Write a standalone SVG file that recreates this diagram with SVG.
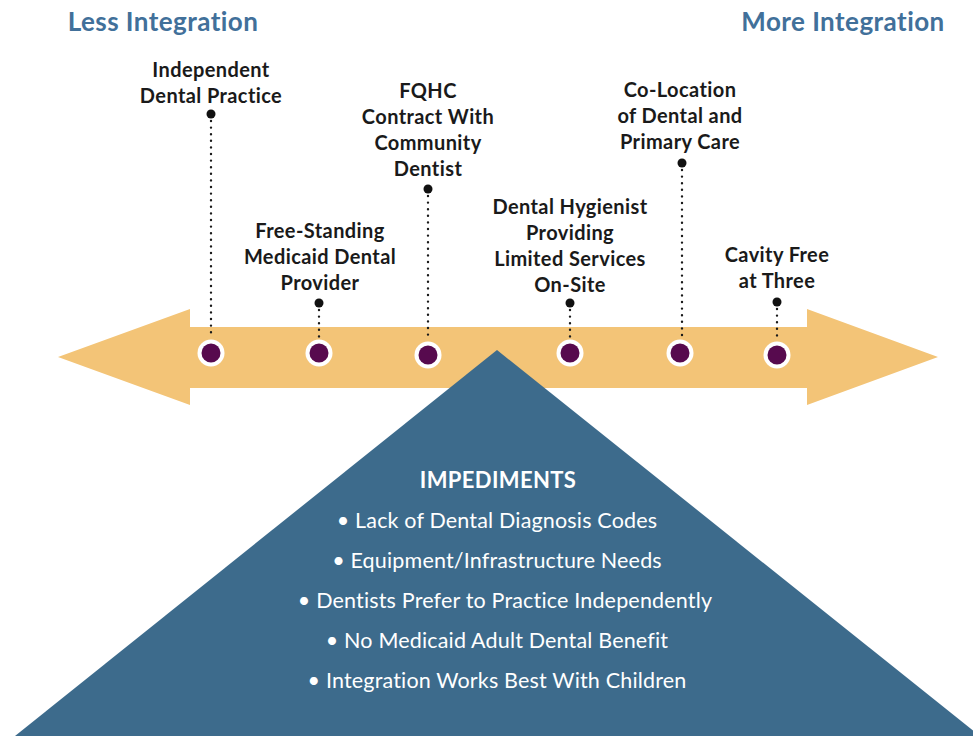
<svg xmlns="http://www.w3.org/2000/svg" width="973" height="736" viewBox="0 0 973 736">
<style>
.hdr{font-family:Lato,"Open Sans",sans-serif;font-weight:700;font-size:26px;letter-spacing:0.45px;fill:#41709a;text-anchor:middle}
.lbl{font-family:Lato,"Open Sans",sans-serif;font-weight:700;font-size:20px;letter-spacing:0.4px;fill:#1a1a1a;text-anchor:middle}
.imp{font-family:Lato,"Open Sans",sans-serif;font-size:21.5px;letter-spacing:0.17px;fill:#ffffff;text-anchor:middle}
.impt{font-family:Lato,"Open Sans",sans-serif;font-weight:700;font-size:22px;letter-spacing:0.35px;fill:#ffffff;text-anchor:middle}
.dots{stroke:#1a1a1a;stroke-width:2.4;stroke-linecap:round;stroke-dasharray:0 6.6;fill:none}
.pin{fill:#111}
.ring{fill:#ffffff}
.core{fill:#570a4e}
</style>
<g id="arrow">
<polygon points="58,357 190,309 190,327 807,327 807,309 938,357 807,405 807,388 190,388 190,405" fill="#f3c477"/>
</g>
<g id="impediments">
<polygon points="497,350 15,736 980,736" fill="#3d6b8c"/>
<text class="impt" x="498" y="488">IMPEDIMENTS</text>
<text class="imp" x="497" y="528">• Lack of Dental Diagnosis Codes</text>
<text class="imp" x="497" y="568">• Equipment/Infrastructure Needs</text>
<text class="imp" x="505" y="608">• Dentists Prefer to Practice Independently</text>
<text class="imp" x="497" y="648">• No Medicaid Adult Dental Benefit</text>
<text class="imp" x="497" y="688">• Integration Works Best With Children</text>
</g>
<g id="headers">
<text class="hdr" x="163" y="31">Less Integration</text>
<text class="hdr" x="843" y="31">More Integration</text>
</g>
<g id="connectors">
<line class="dots" x1="211" y1="121" x2="211" y2="337"/>
<line class="dots" x1="319" y1="310" x2="319" y2="337"/>
<line class="dots" x1="428" y1="196" x2="428" y2="337"/>
<line class="dots" x1="570" y1="310" x2="570" y2="337"/>
<line class="dots" x1="682" y1="170" x2="682" y2="337"/>
<line class="dots" x1="777" y1="309" x2="777" y2="337"/>
</g>
<g id="node-independent">
<text class="lbl" x="211" y="77">Independent</text>
<text class="lbl" x="211" y="103">Dental Practice</text>
<circle class="pin" cx="211" cy="114" r="4.5"/>
<circle class="ring" cx="211" cy="353" r="13.5"/>
<circle class="core" cx="211" cy="353" r="9.5"/>
</g>
<g id="node-freestanding">
<text class="lbl" x="320" y="238">Free-Standing</text>
<text class="lbl" x="320" y="264">Medicaid Dental</text>
<text class="lbl" x="320" y="290">Provider</text>
<circle class="pin" cx="319" cy="303" r="4.5"/>
<circle class="ring" cx="319" cy="353" r="13.5"/>
<circle class="core" cx="319" cy="353" r="9.5"/>
</g>
<g id="node-fqhc">
<text class="lbl" x="428" y="98">FQHC</text>
<text class="lbl" x="428" y="124">Contract With</text>
<text class="lbl" x="428" y="150">Community</text>
<text class="lbl" x="428" y="176">Dentist</text>
<circle class="pin" cx="428" cy="189" r="4.5"/>
<circle class="ring" cx="428" cy="355" r="13.5"/>
<circle class="core" cx="428" cy="355" r="9.5"/>
</g>
<g id="node-hygienist">
<text class="lbl" x="570" y="214">Dental Hygienist</text>
<text class="lbl" x="570" y="240">Providing</text>
<text class="lbl" x="570" y="266">Limited Services</text>
<text class="lbl" x="570" y="292">On-Site</text>
<circle class="pin" cx="570" cy="303" r="4.5"/>
<circle class="ring" cx="570" cy="353" r="13.5"/>
<circle class="core" cx="570" cy="353" r="9.5"/>
</g>
<g id="node-colocation">
<text class="lbl" x="680" y="97">Co-Location</text>
<text class="lbl" x="680" y="123">of Dental and</text>
<text class="lbl" x="680" y="149">Primary Care</text>
<circle class="pin" cx="682" cy="163" r="4.5"/>
<circle class="ring" cx="680" cy="353" r="13.5"/>
<circle class="core" cx="680" cy="353" r="9.5"/>
</g>
<g id="node-cavity">
<text class="lbl" x="777" y="262">Cavity Free</text>
<text class="lbl" x="777" y="288">at Three</text>
<circle class="pin" cx="777" cy="302" r="4.5"/>
<circle class="ring" cx="777" cy="355" r="13.5"/>
<circle class="core" cx="777" cy="355" r="9.5"/>
</g>
</svg>
